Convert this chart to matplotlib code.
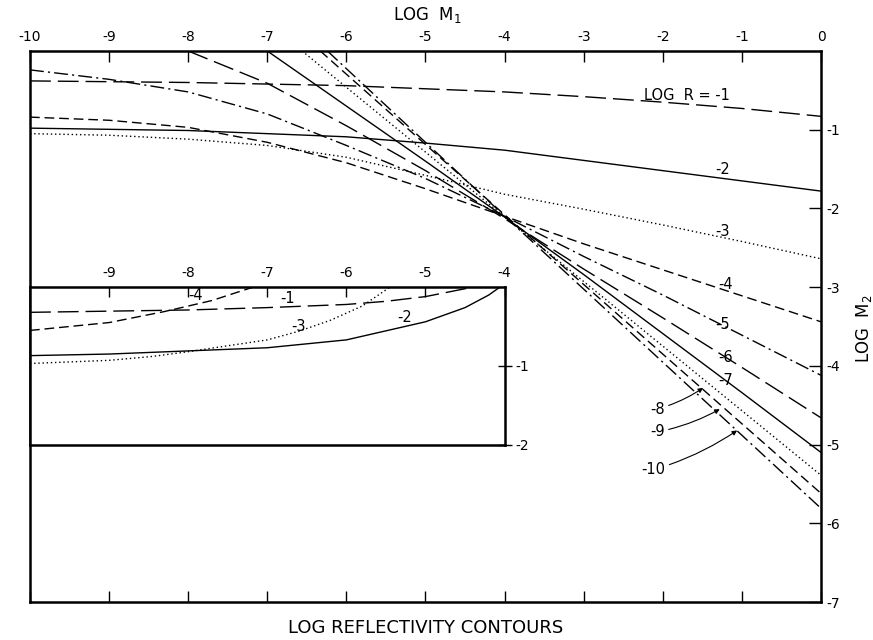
import matplotlib
matplotlib.use("Agg")
import matplotlib.pyplot as plt

plt.rcParams['axes.unicode_minus'] = False
plt.rcParams['mathtext.default'] = 'regular'
plt.rcParams['font.family'] = 'DejaVu Sans'

# main contours: log M1 (x) vs log M2 (y), one pair per log R value
r1_x = [-10, -8, -6, -4, -3, -2, -1, 0]
r1_y = [-0.38, -0.40, -0.44, -0.52, -0.58, -0.65, -0.73, -0.83]
r2_x = [-10, -8, -6, -5, -4, -3, -2, -1, 0]
r2_y = [-0.98, -1.01, -1.09, -1.17, -1.26, -1.39, -1.52, -1.65, -1.78]
r3_x = [-10, -9, -8, -7, -6, -5, -4, -3, -2, -1, 0]
r3_y = [-1.05, -1.07, -1.12, -1.20, -1.35, -1.58, -1.82, -2.01, -2.21, -2.42, -2.64]
r4_x = [-10, -9, -8, -7, -6, -5, -4, -3, -2, -1, 0]
r4_y = [-0.84, -0.88, -0.97, -1.16, -1.42, -1.75, -2.10, -2.45, -2.78, -3.11, -3.44]
r5_x = [-10, -9, -8, -7, -6, -5, -4, -3, -2, -1, 0]
r5_y = [-0.24, -0.36, -0.52, -0.80, -1.20, -1.62, -2.10, -2.61, -3.10, -3.61, -4.12]
r6_x = [-8, -7, -6, -5, -4, -3, -2, -1, 0]
r6_y = [0, -0.41, -0.95, -1.52, -2.13, -2.77, -3.39, -4.02, -4.66]
r7_x = [-7, -6, -5, -4, -3, -2, -1, 0]
r7_y = [0, -0.70, -1.40, -2.11, -2.84, -3.59, -4.34, -5.10]
r8_x = [-6.56, -3.9, 0]
r8_y = [0, -2.19, -5.39]
r9_x = [-6.33, -3.9, 0]
r9_y = [0, -2.17, -5.62]
r10_x = [-6.24, -3.9, 0]
r10_y = [0, -2.19, -5.81]

# inset contours
in1_x = [-10, -8, -7, -6, -5.5, -5, -4.7, -4.4]
in1_y = [-0.32, -0.29, -0.26, -0.22, -0.18, -0.12, -0.06, 0]
in2_x = [-10, -9, -8, -7, -6, -5, -4.5, -4.2, -4.06]
in2_y = [-0.87, -0.85, -0.81, -0.77, -0.67, -0.44, -0.26, -0.10, 0]
in3_x = [-10, -9, -8.45, -8, -7, -6.6, -6.2, -5.8, -5.45]
in3_y = [-0.97, -0.93, -0.88, -0.82, -0.67, -0.56, -0.42, -0.24, 0]
in4_x = [-10, -9, -8.3, -7.7, -7.18]
in4_y = [-0.55, -0.45, -0.31, -0.17, 0]

main_ticks_x = list(range(-10, 1))
main_ticks_y = list(range(-7, 0))

LONG = (0, (15, 5))
SOLID = '-'
DOT = (0, (1, 2))
SHORT = (0, (7, 3.5))
DASHDOT = (0, (10, 3, 1.5, 3))

fig = plt.figure(figsize=(8.73, 6.4), dpi=100)
ax = fig.add_axes([30/873, 1 - 602/640, 791/873, 551/640])

curves = [(r1_x, r1_y, LONG), (r2_x, r2_y, SOLID), (r3_x, r3_y, DOT),
          (r4_x, r4_y, SHORT), (r5_x, r5_y, DASHDOT), (r6_x, r6_y, LONG),
          (r7_x, r7_y, SOLID), (r8_x, r8_y, DOT), (r9_x, r9_y, SHORT),
          (r10_x, r10_y, DASHDOT)]
for cx, cy, ls in curves:
    ax.plot(cx, cy, color='black', lw=1.0, linestyle=ls)

ax.set_xlim(-10, 0)
ax.set_ylim(-7, 0)
ax.set_xticks(main_ticks_x)
ax.set_xticklabels([str(t) for t in main_ticks_x])
ax.set_yticks(main_ticks_y)
ax.set_yticklabels([str(t) for t in main_ticks_y])
ax.tick_params(axis='x', top=True, bottom=True, labeltop=True, labelbottom=False,
               direction='in', length=8, width=1.0, pad=5, labelsize=10)
ax.tick_params(axis='y', left=False, right=True, labelleft=False, labelright=True,
               direction='in', length=9, width=1.0, pad=4, labelsize=10)
for s in ax.spines.values():
    s.set_linewidth(1.8)

# curve labels
fs = 10.5
ax.text(-1.69, -0.56, 'LOG  R = -1', fontsize=fs, ha='center', va='center')
ax.text(-1.25, -1.50, '-2', fontsize=fs, ha='center', va='center')
ax.text(-1.25, -2.29, '-3', fontsize=fs, ha='center', va='center')
ax.text(-1.21, -2.97, '-4', fontsize=fs, ha='center', va='center')
ax.text(-1.24, -3.48, '-5', fontsize=fs, ha='center', va='center')
ax.text(-1.21, -3.89, '-6', fontsize=fs, ha='center', va='center')
ax.text(-1.21, -4.18, '-7', fontsize=fs, ha='center', va='center')
arrow = dict(arrowstyle='-|>', lw=0.8, color='black', mutation_scale=7,
             shrinkA=1, shrinkB=0, connectionstyle='arc3,rad=0.08')
ax.annotate('-8', xy=(-1.49, -4.28), xytext=(-2.07, -4.55), fontsize=fs,
            ha='center', va='center', arrowprops=arrow)
ax.annotate('-9', xy=(-1.28, -4.55), xytext=(-2.07, -4.84), fontsize=fs,
            ha='center', va='center', arrowprops=arrow)
ax.annotate('-10', xy=(-1.06, -4.82), xytext=(-2.12, -5.32), fontsize=fs,
            ha='center', va='center', arrowprops=arrow)

# inset
axi = ax.inset_axes([-10, -5, 6, 2], transform=ax.transData)
axi.set_facecolor('white')
for cx, cy, ls in [(in1_x, in1_y, LONG), (in2_x, in2_y, SOLID),
                   (in3_x, in3_y, DOT), (in4_x, in4_y, SHORT)]:
    axi.plot(cx, cy, color='black', lw=1.0, linestyle=ls)
axi.set_xlim(-10, -4)
axi.set_ylim(-2, 0)
axi.set_xticks([-9, -8, -7, -6, -5, -4])
axi.set_xticklabels(['-9', '-8', '-7', '-6', '-5', '-4'])
axi.set_yticks([-2, -1])
axi.set_yticklabels(['-2', '-1'])
axi.tick_params(axis='x', top=True, bottom=False, labeltop=True, labelbottom=False,
                direction='in', length=7, width=1.0, pad=5, labelsize=10)
axi.tick_params(axis='y', left=False, right=True, labelleft=False, labelright=True,
                direction='inout', length=10, width=1.0, pad=3, labelsize=10)
for s in axi.spines.values():
    s.set_linewidth(1.8)
axi.text(-7.91, -0.11, '-4', fontsize=fs, ha='center', va='center')
axi.text(-6.74, -0.14, '-1', fontsize=fs, ha='center', va='center')
axi.text(-6.61, -0.50, '-3', fontsize=fs, ha='center', va='center')
axi.text(-5.26, -0.39, '-2', fontsize=fs, ha='center', va='center')

fig.text(0.489, 0.977, 'LOG  M$_1$', fontsize=12, ha='center', va='center')
fig.text(0.99, 0.486, 'LOG  M$_2$', fontsize=12, ha='center', va='center', rotation=90)
fig.text(0.488, 0.019, 'LOG REFLECTIVITY CONTOURS', fontsize=13, ha='center', va='center')

fig.savefig('out.png', dpi=100)
